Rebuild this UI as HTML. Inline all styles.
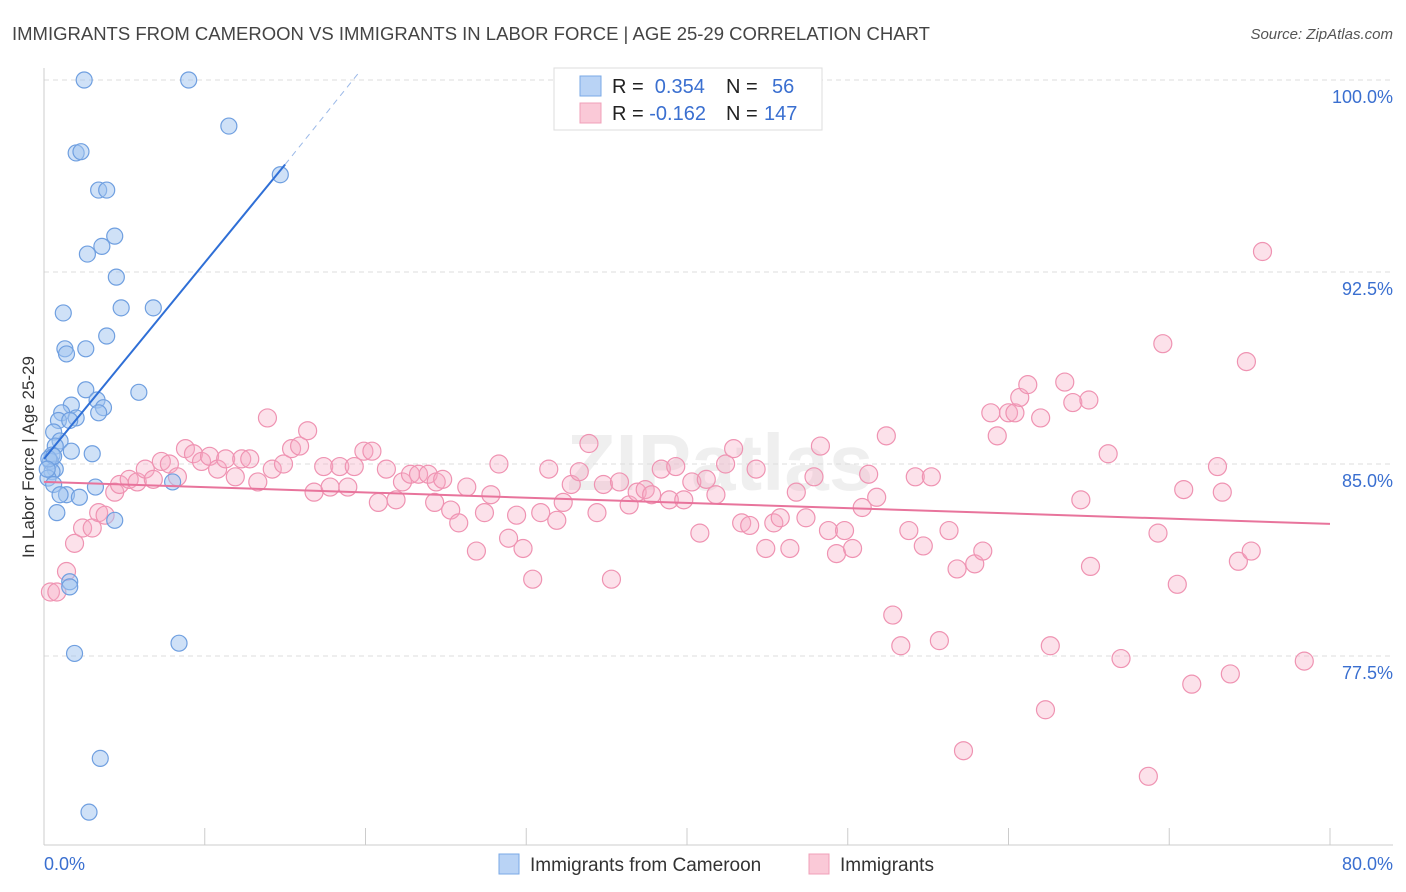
<!DOCTYPE html>
<html><head><meta charset="utf-8">
<style>
body{margin:0;background:#fff;font-family:"Liberation Sans",sans-serif;}
svg{display:block}
</style></head>
<body>
<svg id="chart" width="1406" height="892" xmlns="http://www.w3.org/2000/svg">
<text x="12" y="40" font-size="18.5" fill="#444">IMMIGRANTS FROM CAMEROON VS IMMIGRANTS IN LABOR FORCE | AGE 25-29 CORRELATION CHART</text>
<text x="1393" y="39" font-size="15" fill="#555" text-anchor="end" font-style="italic">Source: ZipAtlas.com</text>
<text x="720" y="490" font-size="80" fill="#000" opacity="0.06" text-anchor="middle" font-weight="bold">ZIPatlas</text>
<g id="grid"></g>
<g id="axes"></g>
<g id="pink"></g>
<g id="blue"></g>
<g id="lines"></g>
<text transform="translate(34,457) rotate(-90)" font-size="17" fill="#333" text-anchor="middle">In Labor Force | Age 25-29</text>
<g>
<rect x="554" y="68" width="268" height="62" fill="#fff" stroke="#ddd"/>
<rect x="580" y="76" width="21" height="20" fill="#b9d3f5" stroke="#7aa8e6"/>
<rect x="580" y="103" width="21" height="20" fill="#fac9d7" stroke="#f0a0b8"/>
<text x="612" y="93" font-size="20" fill="#222">R = <tspan fill="#3a6fd0">&#160;0.354</tspan><tspan x="726">N = </tspan><tspan x="772" fill="#3a6fd0">56</tspan></text>
<text x="612" y="120" font-size="20" fill="#222">R = <tspan fill="#3a6fd0">-0.162</tspan><tspan x="726">N = </tspan><tspan x="764" fill="#3a6fd0">147</tspan></text>
</g>
<g>
<rect x="499" y="854" width="20" height="20" fill="#b9d3f5" stroke="#7aa8e6"/>
<text x="530" y="871" font-size="19" fill="#333">Immigrants from Cameroon</text>
<rect x="809" y="854" width="20" height="20" fill="#fac9d7" stroke="#f0a0b8"/>
<text x="840" y="871" font-size="19" fill="#333">Immigrants</text>
</g>
</svg>
<script>
const blueX=[2.5,9.0,11.5,2.0,2.3,3.4,3.9,14.7,4.4,3.6,2.7,4.5,1.2,4.8,6.8,3.9,1.3,1.4,2.6,2.6,5.9,3.3,1.7,1.1,2.0,3.7,3.4,0.9,1.6,0.6,1.0,0.7,1.7,3.0,0.5,0.4,0.7,0.5,0.25,0.6,3.2,8.0,1.4,1.0,2.2,0.8,4.4,1.6,1.6,1.9,8.4,3.5,2.8,0.3,0.6,0.2];
const blueY=[100.0,100.0,98.2,97.15,97.2,95.7,95.7,96.3,93.9,93.5,93.2,92.3,90.9,91.1,91.1,90.0,89.5,89.3,89.5,87.9,87.8,87.5,87.3,87.0,86.8,87.2,87.0,86.7,86.7,86.25,85.9,85.7,85.5,85.4,85.35,85.1,84.8,84.7,84.45,84.2,84.1,84.3,83.8,83.8,83.7,83.1,82.8,80.4,80.2,77.6,78.0,73.5,71.4,85.2,85.3,84.8];
const pinkX=[0.4,0.8,1.4,1.9,2.4,3.0,3.4,3.8,4.4,4.7,5.3,5.8,6.3,6.8,7.3,7.8,8.3,8.8,9.3,9.8,10.3,10.8,11.3,11.9,12.3,12.8,13.3,13.9,14.2,14.9,15.4,15.9,16.4,16.8,17.4,17.8,18.4,18.9,19.3,19.9,20.4,20.8,21.3,21.9,22.3,22.8,23.3,23.9,24.4,24.8,24.3,25.3,25.8,26.3,26.9,27.4,27.8,28.3,28.9,29.4,29.8,30.4,30.9,31.4,31.9,32.3,32.8,33.3,33.9,34.4,34.8,35.3,35.8,36.4,36.9,37.4,37.8,38.4,38.9,39.3,39.8,40.3,40.8,41.2,41.8,42.4,42.9,43.4,43.9,44.3,44.9,45.4,45.8,46.4,46.8,47.4,47.9,48.3,48.8,49.3,49.8,50.3,50.9,51.3,51.8,52.4,52.8,53.3,53.8,54.2,54.7,55.2,55.7,56.3,56.8,57.2,57.9,58.4,58.9,59.3,60.0,60.4,60.7,61.2,62.0,62.3,62.6,63.5,64.0,64.5,65.0,65.1,66.2,67.0,68.7,69.3,69.6,70.5,70.9,71.4,73.0,73.3,73.8,74.3,74.8,75.1,75.8,78.4];
const pinkY=[80.0,80.0,80.8,81.9,82.5,82.5,83.1,83.0,83.9,84.2,84.4,84.3,84.8,84.4,85.1,85.0,84.5,85.6,85.4,85.1,85.3,84.8,85.2,84.5,85.2,85.2,84.3,86.8,84.8,85.0,85.6,85.7,86.3,83.9,84.9,84.1,84.9,84.1,84.9,85.5,85.5,83.5,84.8,83.6,84.3,84.6,84.6,84.6,84.3,84.4,83.5,83.2,82.7,84.1,81.6,83.1,83.8,85.0,82.1,83.0,81.7,80.5,83.1,84.8,82.8,83.5,84.2,84.7,85.8,83.1,84.2,80.5,84.3,83.4,83.9,84.0,83.8,84.8,83.6,84.9,83.6,84.3,82.3,84.4,83.8,85.0,85.6,82.7,82.6,84.8,81.7,82.7,82.9,81.7,83.9,82.9,84.5,85.7,82.4,81.5,82.4,81.7,83.3,84.6,83.7,86.1,79.1,77.9,82.4,84.5,81.8,84.5,78.1,82.4,80.9,73.8,81.1,81.6,87.0,86.1,87.0,87.0,87.6,88.1,86.8,75.4,77.9,88.2,87.4,83.6,87.5,81.0,85.4,77.4,72.8,82.3,89.7,80.3,84.0,76.4,84.9,83.9,76.8,81.2,89.0,81.6,93.3,77.3];
const yTicks=[100,92.5,85,77.5];
const yTickLabels=["100.0%","92.5%","85.0%","77.5%"];
const xTicks=[0,10,20,30,40,50,60,70,80];
const blueLine=[0,85.2,15,96.7,19.6,100.3];
const pinkLine=[0,84.3,80,82.66];

const NS="http://www.w3.org/2000/svg";
const X0=44,X1=1330,YT=80;
const sx=v=>X0+(X1-X0)*v/80;
const sy=v=>YT+(100-v)*25.6;
function mk(tag,attrs,parent){const e=document.createElementNS(NS,tag);for(const k in attrs)e.setAttribute(k,attrs[k]);document.getElementById(parent).appendChild(e);return e;}

yTicks.forEach((t,i)=>{
  const l=mk('line',{x1:X0,x2:1393,y1:sy(t),y2:sy(t),stroke:'#ddd','stroke-dasharray':'5,4'},'grid');
  
  
  const tx=mk('text',{x:1393,y:sy(t)+23,'font-size':18,fill:'#3a6fd0','text-anchor':'end'},'grid');
  tx.textContent=yTickLabels[i];
  
  
});
let ax=mk('line',{x1:X0,x2:X0,y1:68,y2:845,stroke:'#ccc'},'axes');


ax=mk('line',{x1:X0,x2:1393,y1:845,y2:845,stroke:'#ccc'},'axes');


xTicks.forEach(t=>{
  const l=mk('line',{x1:sx(t),x2:sx(t),y1:828,y2:845,stroke:'#ccc'},'axes');
  
  
});
let xl=mk('text',{x:44,y:870,'font-size':18,fill:'#3a6fd0'},'axes');
xl.textContent=xTicks[0].toFixed(1)+"%";


xl=mk('text',{x:1393,y:870,'font-size':18,fill:'#3a6fd0','text-anchor':'end'},'axes');
xl.textContent=xTicks[xTicks.length-1].toFixed(1)+"%";



pinkX.forEach((v,i)=>{
  const c=mk('circle',{cx:sx(v),cy:sy(pinkY[i]),r:9,fill:'rgba(247,170,195,0.35)',stroke:'#ef93b2','stroke-width':1.2},'pink');
  
  
});
blueX.forEach((v,i)=>{
  const c=mk('circle',{cx:sx(v),cy:sy(blueY[i]),r:8,fill:'rgba(160,195,240,0.5)',stroke:'#6f9fe0','stroke-width':1.2},'blue');
  
  
});
let ln=mk('line',{x1:sx(blueLine[0]),y1:sy(blueLine[1]),x2:sx(blueLine[2]),y2:sy(blueLine[3]),stroke:'#2f6fd6','stroke-width':2},'lines');


ln=mk('line',{x1:sx(blueLine[2]),y1:sy(blueLine[3]),x2:sx(blueLine[4]),y2:sy(blueLine[5]),stroke:'#9bb9e8','stroke-width':1,'stroke-dasharray':'6,5'},'lines');


ln=mk('line',{x1:sx(pinkLine[0]),y1:sy(pinkLine[1]),x2:sx(pinkLine[2]),y2:sy(pinkLine[3]),stroke:'#e8749c','stroke-width':2},'lines');


</script>
</body></html>
